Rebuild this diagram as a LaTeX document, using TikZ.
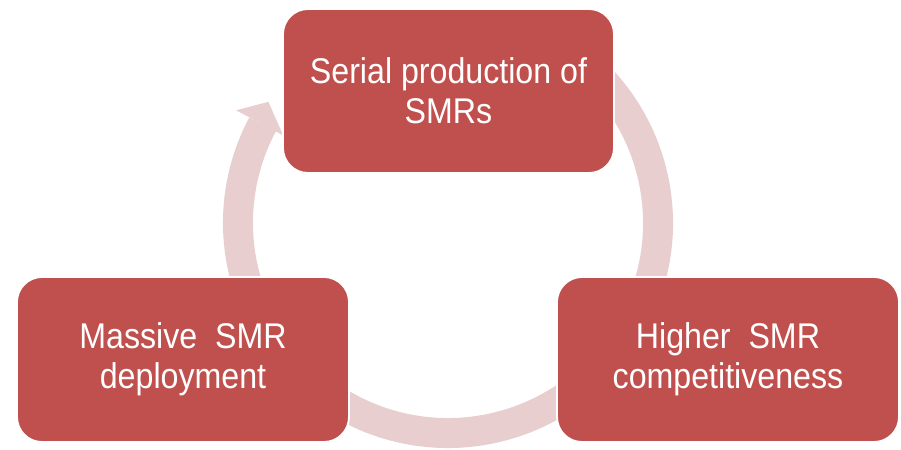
\documentclass[tikz,border=0pt]{standalone}
\usepackage{fontspec}
\setmainfont[FakeStretch=0.9]{Liberation Sans}
\usetikzlibrary{backgrounds}
\definecolor{SMRred}{RGB}{192, 80, 77}
\definecolor{SMRpink}{RGB}{232, 206, 207}

\begin{document}
\begin{tikzpicture}[x=0.03cm, y=-0.03cm,
	stage/.style={shape=rectangle, rounded corners=0.75cm, draw=white, line width=1.6pt, fill=SMRred, text=white, align=center, inner sep=0pt, font=\fontsize{30.5}{34.1}\selectfont}]
	\useasboundingbox (0,0) rectangle (901,449);

	% stages
	\node[stage, minimum width=9.93cm, minimum height=4.92cm] (serial) at (448.5,91) {Serial production of\\SMRs};
	\node[stage, minimum width=10.26cm, minimum height=4.95cm] (compet) at (728,359.5) {Higher~ SMR\\competitiveness};
	\node[stage, minimum width=9.96cm, minimum height=4.95cm] (deploy) at (183,359.5) {Massive~ SMR\\deployment};

	% cycle arrow behind the stages
	\coordinate (hub) at (448,223);
	\begin{scope}[on background layer]
		\draw[SMRpink, line width=0.9cm] ([shift={(60:6.3cm)}]hub) arc[start angle=60, end angle=-208, radius=6.3cm];
		\fill[SMRpink] ([shift={(152:5.6cm)}]hub) -- ([shift={(152:7.2cm)}]hub) -- ([shift={(146:6.5cm)}]hub) -- cycle;
	\end{scope}
\end{tikzpicture}
\end{document}
